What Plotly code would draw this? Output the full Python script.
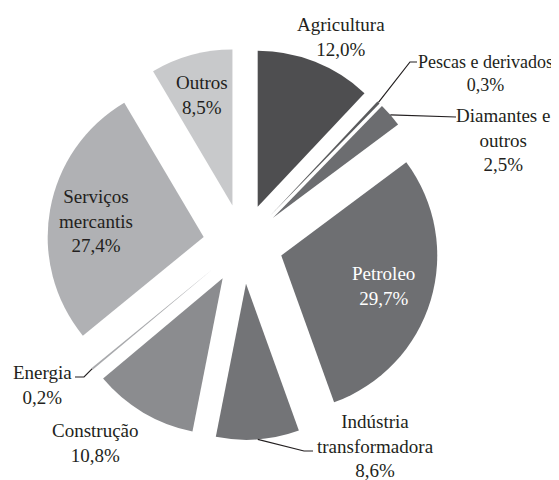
import math
import plotly.graph_objects as go

# ---- data ----
sectors = ["Agricultura", "Pescas e derivados", "Diamantes e outros", "Petroleo",
           "Indústria transformadora", "Construção", "Energia", "Serviços mercantis", "Outros"]
shares = [12.0, 0.3, 2.5, 29.7, 8.6, 10.8, 0.2, 27.4, 8.5]
label_text = ["Agricultura<br>12,0%", "Pescas e derivados<br>0,3%", "Diamantes e<br>outros<br>2,5%",
              "Petroleo<br>29,7%", "Indústria<br>transformadora<br>8,6%", "Construção<br>10,8%",
              "Energia<br>0,2%", "Serviços<br>mercantis<br>27,4%", "Outros<br>8,5%"]
colors = ["#4e4e50", "#5a5b5d", "#6c6d70", "#6e6f72", "#737477", "#8b8c8f",
          "#a9aaad", "#b0b1b4", "#c8c9cb"]

# ---- layout geometry (page pixels; the plot div sits 8px in from the page corner) ----
OFF = 8
W, H = 559 - OFF, 480 - OFF
CX, CY = 243, 244          # pie centre
R = 156                    # slice radius
PULL = 0.256               # pull fraction of radius
HALF = R * (1 + PULL)

def px(x):
    return (x - OFF) / W

def py(y):
    return 1 - (y - OFF) / H

fig = go.Figure(go.Pie(
    labels=sectors, values=shares, sort=False, direction="clockwise", rotation=0,
    pull=[PULL] * len(shares), textinfo="none", hoverinfo="label+percent",
    marker=dict(colors=colors, line=dict(width=0)),
    domain=dict(x=[px(CX - HALF), px(CX + HALF)], y=[py(CY + HALF), py(CY - HALF)]),
    showlegend=False,
))

# outer mid-point of each slice, computed from the data
total = sum(shares)
tips = []
acc = 0.0
for v in shares:
    mid = (acc + v / 2) / total * 2 * math.pi
    acc += v
    dx, dy = math.sin(mid), -math.cos(mid)
    tips.append((CX + dx * R * (PULL + 1), CY + dy * R * (PULL + 1)))

# label positions (page pixels), font sizes and colours
label_pos = [(341, 36.5), (485, 74), (503, 140), (383, 285.5), (375, 446),
             (95, 442.5), (42, 385), (96, 221), (202, 95)]
label_size = [19, 18, 19, 19, 19, 19, 19, 19, 19]
label_col = ["#231f20"] * 9
label_col[3] = "#ffffff"

font_family = "Liberation Serif, DejaVu Serif, serif"
for txt, (x, y), sz, col in zip(label_text, label_pos, label_size, label_col):
    fig.add_annotation(x=px(x), y=py(y), xref="paper", yref="paper", text=txt,
                       showarrow=False, xanchor="center", yanchor="middle",
                       font=dict(family=font_family, size=sz, color=col))

# leader lines: slice tip -> elbow -> label
leaders = {1: [(410, 62), (417, 62)],
           2: [(456, 117)],
           4: [(304, 451), (313, 451)],
           6: [(84, 377), (75, 377)]}
for i, pts in leaders.items():
    path_pts = [tips[i]] + pts
    d = "M " + " L ".join(f"{px(x):.5f},{py(y):.5f}" for x, y in path_pts)
    fig.add_shape(type="path", path=d, xref="paper", yref="paper",
                  line=dict(color="#231f20", width=1.2))

fig.update_layout(width=W, height=H, margin=dict(l=0, r=0, t=0, b=0),
                  paper_bgcolor="white", plot_bgcolor="white")
fig.write_html("out.html")
